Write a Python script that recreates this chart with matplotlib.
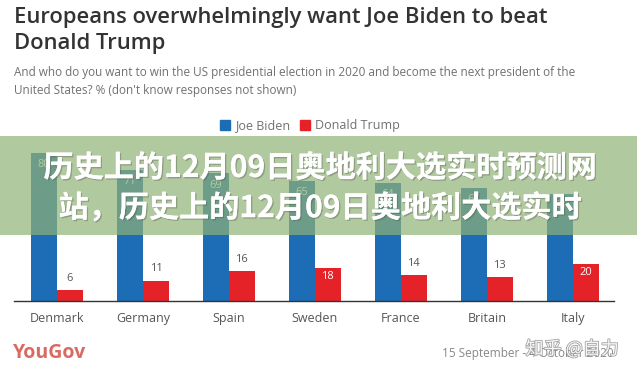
#!/usr/bin/env python3
# YouGov Eurotrack chart: who Europeans want to win the 2020 US election.

import matplotlib
matplotlib.use("Agg")
import matplotlib.pyplot as plt
import matplotlib.patheffects as pe
from matplotlib.patches import Patch, Rectangle

W, H = 637, 373

countries = ["Denmark", "Germany", "Spain", "Sweden", "France", "Britain", "Italy"]
biden = [80, 71, 69, 65, 64, 61, 58]
trump = [6, 11, 16, 18, 14, 13, 20]

title_lines = ["Europeans overwhelmingly want Joe Biden to beat", "Donald Trump"]
subtitle_lines = [
    "And who do you want to win the US presidential election in 2020 and become the next president of the",
    "United States? % (don't know responses not shown)",
]
banner_lines = ["历史上的12月09日奥地利大选实时预测网", "站，历史上的12月09日奥地利大选实时"]
date_text = "15 September - 4 October 2020"
source = "YouGov"
watermark = "知乎 @自力"

COLORS = {
    "biden": "#1c6db5",
    "trump": "#e52228",
    "title": "#333333",
    "sub": "#707070",
    "label": "#555555",
    "banner": (145 / 255, 178 / 255, 118 / 255),
}

SANS = ["Open Sans", "DejaVu Sans"]
CJK = ["Noto Sans CJK SC", "DejaVu Sans"]


def fx(x):
    return x / W


def fy(y):
    return 1 - y / H


fig = plt.figure(figsize=(W / 100, H / 100), dpi=100)
fig.patch.set_facecolor("white")

# bar axes: baseline at y=301px, 1.85 px per percent, groups 86 px apart
ax = fig.add_axes([fx(14), fy(301), 600 / W, 80 * 1.85 / H])
ax.set_xlim(-0.5, 6.48)
ax.set_ylim(0, 80)
xs = list(range(len(countries)))
bw = 0.302
b1 = ax.bar([x - bw / 2 for x in xs], biden, bw, color=COLORS["biden"], zorder=2)
b2 = ax.bar([x + bw / 2 for x in xs], trump, bw, color=COLORS["trump"], zorder=2)

for bar, v in zip(b1, biden):
    ax.annotate(str(v), (bar.get_x() + bar.get_width() / 2, v), xytext=(0, -8.5),
                textcoords="offset points", ha="center", va="center",
                color="white", fontsize=8, family=SANS)
for bar, v in zip(b2, trump):
    inside = v >= 17
    ax.annotate(str(v), (bar.get_x() + bar.get_width() / 2, v),
                xytext=(0, -6 if inside else 8.5), textcoords="offset points",
                ha="center", va="center", fontsize=8, family=SANS,
                color="white" if inside else COLORS["label"])

for s in ["top", "right", "left"]:
    ax.spines[s].set_visible(False)
ax.spines["bottom"].set_color("#333333")
ax.spines["bottom"].set_linewidth(1.0)
ax.set_yticks([])
ax.set_xticks(xs)
ax.set_xticklabels(countries, fontsize=9, color=COLORS["label"], family=SANS)
ax.tick_params(axis="x", length=0, pad=8)

# header
for i, line in enumerate(title_lines):
    fig.text(fx(14), fy(23.5 + 25 * i), line, fontsize=15.8, fontweight="semibold",
             color=COLORS["title"], family=SANS, va="baseline")
for i, line in enumerate(subtitle_lines):
    fig.text(fx(14), fy(76 + 18 * i), line, fontsize=8.5, color=COLORS["sub"],
             family=SANS, va="baseline")

handles = [Patch(color=COLORS["biden"], label="Joe Biden"),
           Patch(color=COLORS["trump"], label="Donald Trump")]
fig.legend(handles=handles, loc="center", bbox_to_anchor=(fx(310), fy(126)),
           ncol=2, frameon=False, handlelength=0.8, handleheight=0.8,
           handletextpad=0.4, columnspacing=0.8, prop={"family": SANS, "size": 9},
           labelcolor=COLORS["sub"])

# footer
fig.text(fx(13), fy(353), source, fontsize=14, fontweight="bold", color="#da6a60",
         family=SANS, va="center")
fig.text(fx(614), fy(354), date_text, fontsize=8.5, color="#888888", family=SANS,
         ha="right", va="center")
fig.text(fx(572), fy(349), watermark, fontsize=13, color="white", family=CJK,
         ha="center", va="center", alpha=0.9, zorder=7,
         path_effects=[pe.withStroke(linewidth=1.2, foreground="#9a9a9a")])

# green banner overlay with headline
fig.add_artist(Rectangle((0, fy(235)), 1, 99 / H, transform=fig.transFigure,
                         facecolor=COLORS["banner"], alpha=0.7, edgecolor="none",
                         zorder=5))
for i, line in enumerate(banner_lines):
    fig.text(fx(320), fy(168 + 40 * i), line, fontsize=21.7, fontweight="bold",
             color="white", family=CJK, ha="center", va="center", zorder=6,
             path_effects=[pe.withSimplePatchShadow(offset=(1, -1), alpha=0.35),
                           pe.Normal()])

fig.savefig("out.png", dpi=100, facecolor="white")
